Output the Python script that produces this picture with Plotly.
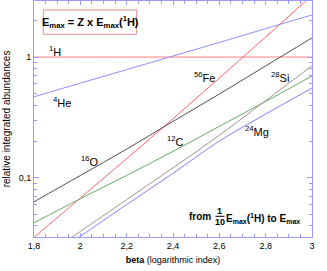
import math
import plotly.graph_objects as go

beta = [1.8, 2.0, 2.2, 2.4, 2.6, 2.8, 3.0]
h_vals = [1, 1, 1, 1, 1, 1, 1]
he_vals = [0.469, 0.608, 0.787, 1.02, 1.32, 1.72, 2.23]
fe_vals = [0.0321, 0.068, 0.144, 0.308, 0.670, 1.466, 3.24]
o_vals = [0.0633, 0.1045, 0.173, 0.293, 0.494, 0.844, 1.44]
c_vals = [0.0424, 0.0671, 0.1047, 0.1655, 0.267, 0.429, 0.696]
beta_si = [1.9, 2.0, 2.2, 2.4, 2.6, 2.8, 3.0]
si_vals = [0.0266, 0.0360, 0.0660, 0.121, 0.225, 0.436, 0.847]
beta_mg = [1.9, 2.0, 2.2, 2.4, 2.6, 2.8, 3.0]
mg_vals = [0.0243, 0.0328, 0.0601, 0.109, 0.2014, 0.337, 0.554]

x_ticks = [1.8, 2.0, 2.2, 2.4, 2.6, 2.8, 3.0]
x_ticktext = ["1,8", "2", "2,2", "2,4", "2,6", "2,8", "3"]
y_ticks = [0.1, 1]
y_ticktext = ["0,1", "1"]
y_minor = [0.04, 0.05, 0.06, 0.07, 0.08, 0.09, 0.2, 0.3, 0.4, 0.5, 0.6, 0.7, 0.8, 0.9, 2]

labels = [
    ("<sup>1</sup>H", 1.89, 1.12),
    ("<sup>4</sup>He", 1.92, 0.424),
    ("<sup>56</sup>Fe", 2.534, 0.682),
    ("<sup>28</sup>Si", 2.862, 0.682),
    ("<sup>12</sup>C", 2.409, 0.201),
    ("<sup>24</sup>Mg", 2.762, 0.244),
    ("<sup>16</sup>O", 2.042, 0.137),
]

AX = "#9a9aff"
FONT = "Liberation Sans, Arial, sans-serif"

fig = go.Figure()
series = [
    (beta, h_vals, "#ff8080"),
    (beta, he_vals, "#9090ff"),
    (beta, fe_vals, "#ff6464"),
    (beta, o_vals, "#505050"),
    (beta, c_vals, "#66aa66"),
    (beta_si, si_vals, "#a89090"),
    (beta_mg, mg_vals, "#8080ff"),
]
for xs, ys, col in series:
    fig.add_trace(go.Scatter(x=xs, y=ys, mode="lines", line=dict(color=col, width=1),
                             line_shape="spline", showlegend=False, hoverinfo="skip"))

for txt, xv, yv in labels:
    fig.add_annotation(x=xv, y=math.log10(yv), yref="y", xref="x", text=txt, showarrow=False,
                       xanchor="center", yanchor="middle",
                       font=dict(size=11, color="black", family=FONT))

W, H = 327, 271
L, R, T, B = 34, 15, 1, 34
pw, ph = W - L - R, H - T - B


def px(xp):
    return (xp - L) / pw


def py(yp):
    return (H - B - yp) / ph


# formula box
fig.add_shape(type="rect", xref="paper", yref="paper", x0=px(43.3), x1=px(136.7),
              y0=py(34.3), y1=py(10), line=dict(color="#e08c8c", width=1))
fig.add_annotation(xref="paper", yref="paper", x=px(90), y=py(22), showarrow=False,
                   xanchor="center", yanchor="middle",
                   text="<b>E<sub>max</sub> = Z x E<sub>max</sub>(<sup>1</sup>H)</b>",
                   font=dict(size=11, color="black", family=FONT))

# bottom annotation with fraction
fig.add_annotation(xref="paper", yref="paper", x=px(212.5), y=py(216.5), xanchor="right",
                   yanchor="middle", showarrow=False, text="<b>from</b>",
                   font=dict(size=10, color="black", family=FONT))
fig.add_annotation(xref="paper", yref="paper", x=px(220), y=py(210.5), showarrow=False,
                   xanchor="center", yanchor="middle",
                   text="<b>1</b>", font=dict(size=9, color="black", family=FONT))
fig.add_annotation(xref="paper", yref="paper", x=px(220), y=py(222), showarrow=False,
                   xanchor="center", yanchor="middle",
                   text="<b>10</b>", font=dict(size=9, color="black", family=FONT))
fig.add_shape(type="line", xref="paper", yref="paper", x0=px(215.5), x1=px(224.5),
              y0=py(216.3), y1=py(216.3), line=dict(color="black", width=1))
fig.add_annotation(xref="paper", yref="paper", x=px(224), y=py(218.5), xanchor="left",
                   yanchor="middle", showarrow=False,
                   text="<b>E<sub>max</sub>(<sup>1</sup>H) to E<sub>max</sub></b>",
                   font=dict(size=10, color="black", family=FONT))

fig.update_layout(
    width=W, height=H,
    margin=dict(l=L, r=R, t=T, b=B, autoexpand=False),
    paper_bgcolor="white", plot_bgcolor="white",
    font=dict(family=FONT, size=9, color="black"),
    xaxis=dict(range=[1.8, 3.0], tickvals=x_ticks, ticktext=x_ticktext, automargin=False,
               showgrid=False, zeroline=False, showline=True, linecolor=AX, linewidth=1,
               mirror="ticks", ticks="inside", ticklen=4, tickcolor=AX,
               minor=dict(dtick=0.05, tick0=1.8, ticks="inside", ticklen=3, tickcolor=AX, showgrid=False),
               title=dict(text="<b>beta</b> (logarithmic index)", font=dict(size=9), standoff=6),
               tickfont=dict(size=9)),
    yaxis=dict(type="log", range=[-1.49, 0.464], tickvals=y_ticks, ticktext=y_ticktext,
               automargin=False,
               showgrid=False, zeroline=False, showline=True, linecolor=AX, linewidth=1,
               mirror="ticks", ticks="inside", ticklen=5, tickcolor=AX,
               minor=dict(tickvals=y_minor, ticks="inside", ticklen=3, tickcolor=AX, showgrid=False),
               title=dict(text="relative integrated abundances", font=dict(size=10), standoff=6),
               tickfont=dict(size=9)),
)

fig.write_html("out.html", config={"displayModeBar": False},
               post_script="document.body.style.margin='0';document.body.style.padding='0';")
